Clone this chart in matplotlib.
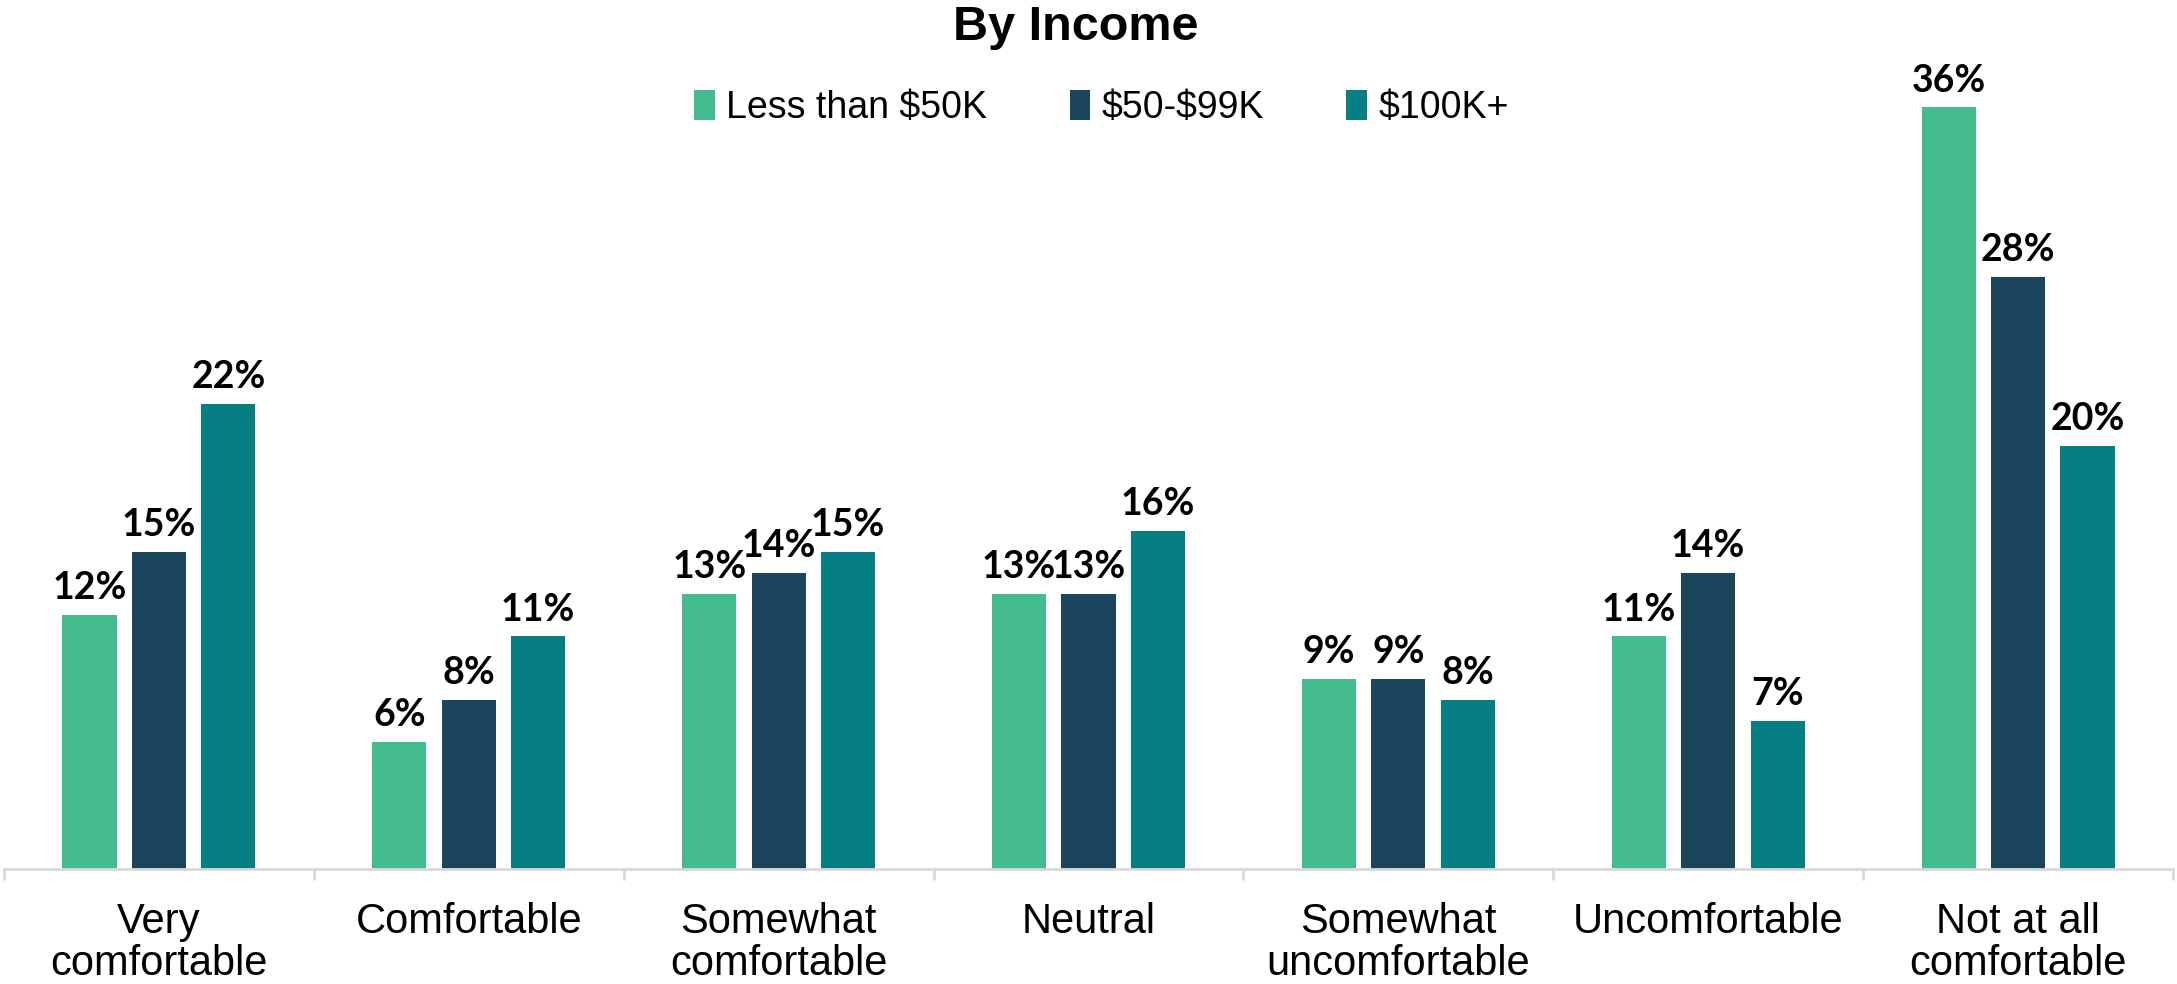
import numpy as np
import matplotlib
matplotlib.use("Agg")
from matplotlib import pyplot as plt

# survey comfort levels broken down by household income
categories = ["Very\ncomfortable", "Comfortable", "Somewhat\ncomfortable", "Neutral",
              "Somewhat\nuncomfortable", "Uncomfortable", "Not at all\ncomfortable"]
series_names = ["Less than \\$50K", "\\$50-\\$99K", "\\$100K+"]
less_50k = [12, 6, 13, 13, 9, 11, 36]
k50_99k = [15, 8, 14, 13, 9, 14, 28]
k100_plus = [22, 11, 15, 16, 8, 7, 20]
colors = ["#45BC8D", "#1A455C", "#067F84"]

sans = ["Liberation Sans", "DejaVu Sans"]

fig = plt.figure(figsize=(21.77, 9.84), dpi=100)
ax = fig.add_axes([4 / 2177, 115 / 984, 2169 / 2177, 0.86])

x = np.arange(len(categories))
width = 0.175
step = 0.224
for i, (vals, name) in enumerate(zip([less_50k, k50_99k, k100_plus], series_names)):
    bars = ax.bar(x + (i - 1) * step, vals, width, color=colors[i], label=name)
    for b, v in zip(bars, vals):
        ax.annotate(f"{v}%", (b.get_x() + b.get_width() / 2, b.get_height()),
                    xytext=(0, 7), textcoords="offset points", ha="center", va="bottom",
                    fontsize=27, family="Lato", fontweight="bold", color="black")

ax.set_xlim(-0.5, len(categories) - 0.5)
ax.set_ylim(0, 40)
ax.set_yticks([])
for s in ["top", "right", "left"]:
    ax.spines[s].set_visible(False)
ax.spines["bottom"].set_color("#D9D9D9")
ax.spines["bottom"].set_linewidth(2)

ax.set_xticks(x)
ax.set_xticklabels(categories, fontsize=30, family=sans, linespacing=1.05)
ax.tick_params(axis="x", which="major", length=0, pad=24)
ax.set_xticks(np.arange(len(categories) + 1) - 0.5, minor=True)
ax.tick_params(axis="x", which="minor", length=8, width=2, color="#D9D9D9")

fig.text(0.494, 0.972, "By Income", ha="center", va="center", fontsize=35,
         family=sans, fontweight="bold")
fig.legend(loc="center", bbox_to_anchor=(0.506, 0.89), ncol=3, frameon=False,
           prop={"family": sans, "size": 27}, handlelength=0.55, handleheight=0.85,
           handletextpad=0.3, columnspacing=2.2)

fig.savefig("out.png", dpi=100)
